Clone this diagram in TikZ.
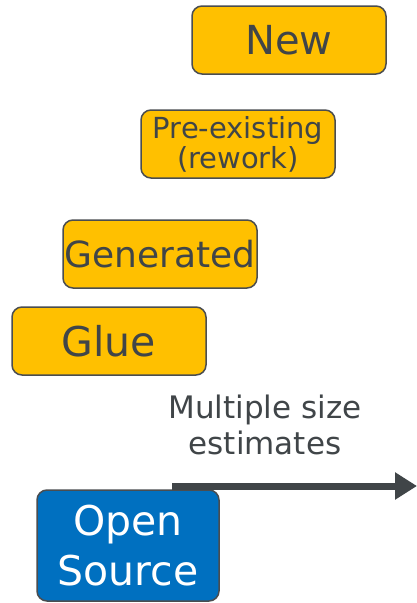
\documentclass[tikz,border=0pt]{standalone}
\usepackage{fontspec}
\setmainfont{DejaVu Sans}
\usetikzlibrary{arrows.meta}
\definecolor{boxyellow}{HTML}{FFC000}
\definecolor{boxblue}{HTML}{0070C0}
\definecolor{edgegray}{HTML}{4A4D50}
\definecolor{textgray}{HTML}{404548}
\begin{document}
\begin{tikzpicture}[x=1pt, y=-1pt,
        box/.style={draw=edgegray, line width=1.5pt, rounded corners=10pt,
            minimum width=194pt, minimum height=68pt, inner sep=0pt,
            align=center, text=textgray},
        part/.style={box, fill=boxyellow},
        source/.style={box, fill=boxblue, text=white,
            minimum width=182pt, minimum height=111pt}]
    \useasboundingbox (0,0) rectangle (417,603);
    % code parts, stacked
    \node[part, font=\fontsize{40}{44}\selectfont] (new) at (289,40) {New};
    \node[part, font=\fontsize{29}{30}\selectfont] (rework) at (238,144) {Pre-existing\\(rework)};
    \node[part, font=\fontsize{36}{40}\selectfont] (gen) at (160,254) {Generated};
    \node[part, font=\fontsize{41}{44}\selectfont] (glue) at (109,341) {Glue};
    \node[source, font=\fontsize{41}{50}\selectfont] (oss) at (128,545.5) {Open\\Source};
    % size axis
    \coordinate (axis start) at (172,486);
    \coordinate (axis end) at (417,486);
    \draw[textgray, line width=7pt, -{Triangle[length=22pt, width=26pt]}] (axis start) -- (axis end);
    \node[text=textgray, align=center, font=\fontsize{31}{36}\selectfont] (axislabel) at (265,425) {Multiple size\\estimates};
\end{tikzpicture}
\end{document}
